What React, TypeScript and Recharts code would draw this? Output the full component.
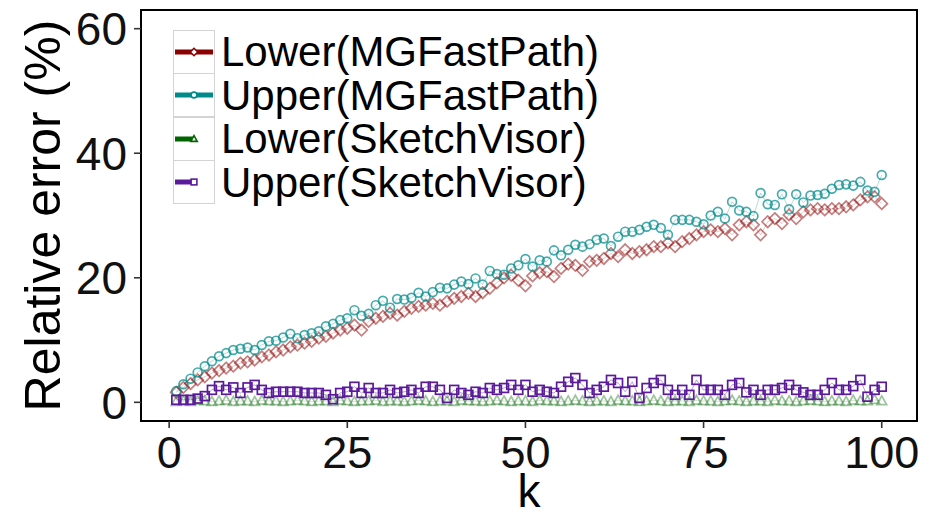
import React from "react";
import { ComposedChart, Line, XAxis, YAxis, ReferenceArea, Legend, Label } from "recharts";

const K = [1,2,3,4,5,6,7,8,9,10,11,12,13,14,15,16,17,18,19,20,21,22,23,24,25,26,27,28,29,30,31,32,33,34,35,36,37,38,39,40,41,42,43,44,45,46,47,48,49,50,51,52,53,54,55,56,57,58,59,60,61,62,63,64,65,66,67,68,69,70,71,72,73,74,75,76,77,78,79,80,81,82,83,84,85,86,87,88,89,90,91,92,93,94,95,96,97,98,99,100];

const LOWER_MG = [1.6,2.4,3.0,3.6,4.1,4.7,5.1,5.5,5.8,6.3,6.5,6.8,7.3,7.6,8.1,8.4,8.9,9.2,9.5,9.8,10.3,10.6,11.1,11.6,11.9,12.4,11.6,13.0,13.5,13.8,14.3,14.0,14.6,15.1,15.4,15.6,15.9,15.6,16.2,16.7,17.0,17.5,17.0,17.6,18.3,19.2,20.0,20.4,19.6,18.7,20.3,20.8,21.0,20.2,21.5,22.2,22.0,21.2,22.6,22.8,23.1,23.9,23.4,24.5,23.9,24.2,24.5,25.0,25.0,25.6,25.0,25.8,26.3,26.9,27.4,27.7,27.4,27.9,26.9,28.5,29.0,28.5,26.9,29.0,29.5,28.7,30.1,29.5,30.6,30.9,31.1,30.9,31.1,31.1,31.4,31.7,32.5,33.0,33.0,31.9];

const UPPER_MG = [1.8,2.9,3.8,4.8,5.8,6.6,7.4,7.9,8.4,8.6,8.8,8.4,9.2,9.8,9.9,10.4,11.0,10.3,10.8,11.1,11.4,12.2,12.6,13.2,13.5,14.8,13.9,14.2,15.6,16.3,15.2,16.6,16.5,16.8,17.6,17.0,17.7,18.4,18.3,18.9,19.4,19.0,19.9,18.9,21.1,20.6,20.5,21.5,22.0,23.0,21.8,22.8,22.6,24.4,23.6,24.5,25.3,25.0,25.4,26.1,26.3,25.1,26.6,27.4,27.4,27.7,28.2,28.5,28.0,26.9,29.3,29.3,29.3,29.0,28.6,30.0,30.6,29.5,32.2,30.8,30.6,29.9,33.6,31.8,31.7,33.4,31.0,33.4,32.1,33.2,33.3,33.5,34.3,34.9,35.0,34.8,35.4,34.0,33.8,36.5];

const LOWER_SV = [0.1,0.2,0.1,0.3,0.2,0.1,0.2,0.3,0.1,0.2,0.2,0.1,0.3,0.2,0.2,0.1,0.2,0.3,0.2,0.1,0.2,0.2,0.1,0.3,0.2,0.1,0.2,0.2,0.3,0.1,0.2,0.2,0.1,0.2,0.3,0.2,0.1,0.2,0.2,0.1,0.3,0.2,0.2,0.1,0.2,0.3,0.2,0.1,0.2,0.2,0.1,0.3,0.2,0.2,0.1,0.2,0.3,0.2,0.1,0.2,0.2,0.1,0.3,0.2,0.2,0.1,0.2,0.3,0.2,0.1,0.2,0.2,0.1,0.3,0.2,0.2,0.1,0.2,0.3,0.2,0.1,0.2,0.2,0.1,0.3,0.2,0.2,0.1,0.2,0.3,0.2,0.1,0.2,0.2,0.1,0.3,0.2,0.2,0.4,0.2];

const UPPER_SV = [0.4,0.4,0.4,0.6,1.0,2.0,2.6,2.0,2.4,1.5,2.4,2.8,2.0,1.5,1.7,1.7,1.7,1.7,1.5,1.5,1.5,1.2,0.5,1.5,1.7,2.5,1.5,2.3,1.5,1.5,2.0,1.5,1.7,2.0,1.5,2.5,2.5,2.0,0.7,2.0,1.5,1.2,1.7,1.5,2.3,2.0,2.3,2.8,2.0,2.8,1.7,2.0,1.7,1.5,2.5,3.3,3.9,2.8,1.5,2.0,2.5,3.6,3.1,1.7,3.3,0.7,2.3,3.1,3.6,2.0,1.2,2.0,1.2,3.6,2.0,2.0,2.0,1.2,2.8,3.1,1.6,2.0,1.2,2.0,2.0,2.3,2.8,2.0,1.6,1.2,1.2,2.0,3.1,2.0,2.0,2.6,3.6,0.9,2.0,2.5];

const X_TICKS = [0, 25, 50, 75, 100];
const Y_TICKS = [0, 20, 40, 60];

const SERIES = [
  { key: "lowerMG", name: "Lower(MGFastPath)", color: "#8B0000", shape: "diamond", opacity: 0.5, fullBar: true },
  { key: "upperMG", name: "Upper(MGFastPath)", color: "#008B8B", shape: "circle", opacity: 0.72, fullBar: true },
  { key: "lowerSV", name: "Lower(SketchVisor)", color: "#006400", shape: "triangle", opacity: 0.38, fullBar: false },
  { key: "upperSV", name: "Upper(SketchVisor)", color: "#5B1A9B", shape: "square", opacity: 1, fullBar: false },
];

const data = K.map((k, i) => ({
  k,
  lowerMG: LOWER_MG[i],
  upperMG: UPPER_MG[i],
  lowerSV: LOWER_SV[i],
  upperSV: UPPER_SV[i],
}));

const FONT = "'Liberation Sans', Arial, Helvetica, sans-serif";

function Marker({ shape, cx, cy, color, fill, size, sw }: any) {
  const s = size;
  if (shape === "circle") return <circle cx={cx} cy={cy} r={s * 0.85} fill={fill} stroke={color} strokeWidth={sw} />;
  if (shape === "diamond")
    return <path d={`M${cx},${cy - s * 1.1}L${cx + s * 1.1},${cy}L${cx},${cy + s * 1.1}L${cx - s * 1.1},${cy}Z`} fill={fill} stroke={color} strokeWidth={sw} />;
  if (shape === "triangle")
    return <path d={`M${cx},${cy - s}L${cx + s * 0.95},${cy + s * 0.7}L${cx - s * 0.95},${cy + s * 0.7}Z`} fill={fill} stroke={color} strokeWidth={sw} />;
  return <rect x={cx - s * 0.85} y={cy - s * 0.85} width={s * 1.7} height={s * 1.7} fill={fill} stroke={color} strokeWidth={sw} />;
}

const makeDot = (ser: any) => (props: any) => {
  const { cx, cy, index } = props;
  if (cx == null || cy == null) return <g key={`d-${ser.key}-${index}`} />;
  return (
    <g key={`d-${ser.key}-${index}`} opacity={ser.opacity}>
      <Marker shape={ser.shape} cx={cx} cy={cy} color={ser.color} fill="none" size={5.2} sw={1.7} />
    </g>
  );
};

function LegendContent() {
  return (
    <div style={{ fontFamily: FONT }}>
      {SERIES.map((s) => (
        <div key={s.key} style={{ display: "flex", alignItems: "center", height: 43.5 }}>
          <svg width={42} height={44} style={{ display: "block", flex: "none" }}>
            <rect x={0.5} y={0.5} width={41} height={43} fill="#fff" stroke="#d4d4d4" strokeWidth={1} />
            <line x1={2} x2={s.fullBar ? 40 : 22} y1={22} y2={22} stroke={s.color} strokeWidth={5} />
            <Marker shape={s.shape} cx={21} cy={22} color={s.color} fill="#fff" size={3.4} sw={1.6} />
          </svg>
          <span style={{ fontSize: 42, color: "#000", marginLeft: 6, lineHeight: "43px", whiteSpace: "nowrap" }}>{s.name}</span>
        </div>
      ))}
    </div>
  );
}

const YTitle = (props: any) => {
  const vb = props.viewBox || { x: 0, y: 10, width: 141, height: 411 };
  const cy = vb.y + vb.height / 2;
  const x = 60;
  return (
    <text x={x} y={cy} transform={`rotate(-90, ${x}, ${cy})`} textAnchor="middle" fontSize={50} fontFamily={FONT} fill="#000">
      Relative error (%)
    </text>
  );
};

const XTitle = (props: any) => {
  const vb = props.viewBox || { x: 141, y: 421, width: 776, height: 96 };
  return (
    <text x={vb.x + vb.width / 2} y={507} textAnchor="middle" fontSize={46} fontFamily={FONT} fill="#000">
      k
    </text>
  );
};

export default function App() {
  return (
    <div style={{ position: "absolute", left: 0, top: 0, width: 943, height: 517, background: "#fff" }}>
      <ComposedChart width={943} height={517} data={data} margin={{ top: 10, right: 26, bottom: 0, left: 0 }}>
        <XAxis
          dataKey="k"
          type="number"
          domain={[-3.95, 104.95]}
          ticks={X_TICKS}
          allowDataOverflow
          axisLine={false}
          tickSize={7}
          tickMargin={8}
          height={96}
          tickLine={{ stroke: "#333", strokeWidth: 1.6 }}
          tick={{ fontSize: 45, fontFamily: FONT, fill: "#111" }}
        >
          <Label content={<XTitle />} />
        </XAxis>
        <YAxis
          type="number"
          domain={[-3, 63]}
          ticks={Y_TICKS}
          allowDataOverflow
          axisLine={false}
          tickSize={7}
          tickMargin={7}
          width={141}
          tickLine={{ stroke: "#333", strokeWidth: 1.6 }}
          tick={{ fontSize: 46, fontFamily: FONT, fill: "#111" }}
        >
          <Label content={<YTitle />} />
        </YAxis>
        {SERIES.map((s) => (
          <Line
            key={s.key}
            dataKey={s.key}
            name={s.name}
            stroke={s.color}
            strokeOpacity={s.opacity * 0.6}
            strokeWidth={0.7}
            dot={makeDot(s)}
            activeDot={false}
            isAnimationActive={false}
            type="linear"
          />
        ))}
        <ReferenceArea x1={-3.95} x2={104.95} y1={-3} y2={63} fill="none" fillOpacity={0} stroke="#000" strokeWidth={2} ifOverflow="visible" />
        <Legend
          content={<LegendContent />}
          layout="vertical"
          verticalAlign="middle"
          align="center"
          wrapperStyle={{ position: "absolute", left: 173, top: 30, width: 440, height: 175 }}
        />
      </ComposedChart>
    </div>
  );
}
